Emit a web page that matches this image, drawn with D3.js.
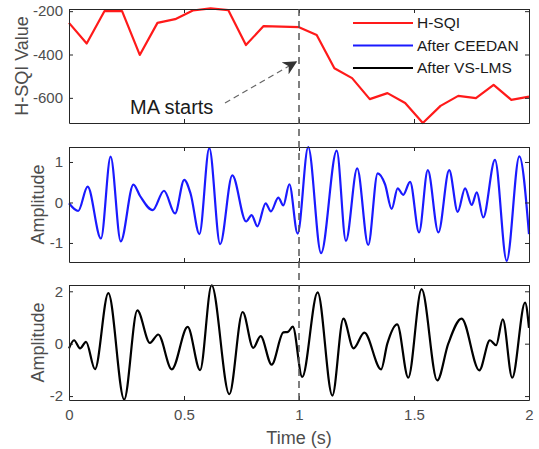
<!DOCTYPE html>
<html>
<head>
<meta charset="utf-8">
<script src="https://cdn.jsdelivr.net/npm/d3@7"></script>
<style>
  body { margin: 0; background: #fff; }
  svg text { font-family: "Liberation Sans", Arial, sans-serif; }
</style>
</head>
<body>
<svg id="chart" width="539" height="449"></svg>
<script>
// H-SQI, one value per window (27 windows over 2 s)
var hsqiTime = d3.range(27).map(function (i) { return i * 2 / 26; });
var hsqiValues = [-254, -349, -200, -200, -402, -254, -237, -197, -187, -195, -356, -269,
    -271, -274, -310, -463, -509, -606, -578, -624, -716, -637, -591, -601, -540, -609, -594];

// after CEEDAN: turning points
var ceedanTime = [0, 0.040, 0.081, 0.139, 0.181, 0.225, 0.280, 0.309, 0.364, 0.413, 0.461, 0.501,
    0.529, 0.567, 0.610, 0.657, 0.710, 0.770, 0.794, 0.819, 0.855, 0.878, 0.910, 0.932, 0.958,
    0.994, 1.040, 1.096, 1.164, 1.204, 1.253, 1.301, 1.342, 1.374, 1.403, 1.429, 1.453, 1.483,
    1.522, 1.560, 1.606, 1.653, 1.690, 1.722, 1.751, 1.773, 1.801, 1.852, 1.903, 1.958, 2.0];
var ceedanValues = [-0.02, -0.21, 0.39, -0.89, 1.13, -0.96, 0.44, 0.16, -0.19, 0.29, -0.27, 0.56,
    0.21, -0.78, 1.34, -1.03, 0.67, -0.47, -0.31, -0.59, -0.02, -0.22, 0.12, -0.07, 0.45,
    -0.77, 1.37, -1.25, 1.28, -0.95, 0.84, -1.05, 0.72, 0.45, -0.16, 0.35, 0.19, 0.51,
    -0.74, 0.80, -0.74, 0.80, -0.23, 0.35, -0.06, 0.25, -0.37, 1.05, -1.44, 1.14, -0.78];

// after VS-LMS
var lmsTime = [0, 0.022, 0.048, 0.074, 0.113, 0.171, 0.240, 0.297, 0.352, 0.388, 0.447, 0.516,
    0.570, 0.620, 0.697, 0.755, 0.801, 0.833, 0.881, 0.932, 0.952, 0.973, 1.014, 1.081, 1.145,
    1.193, 1.237, 1.284, 1.357, 1.384, 1.427, 1.475, 1.533, 1.601, 1.649, 1.707, 1.784, 1.830,
    1.857, 1.886, 1.927, 1.983, 2.0];
var lmsValues = [-0.18, 0.13, -0.18, 0.07, -0.97, 1.93, -2.13, 1.27, 0.03, 0.35, -0.98, 0.64,
    -1.01, 2.23, -1.93, 1.21, -0.16, 0.29, -0.8, 0.43, 0.45, 0.65, -1.27, 1.96, -1.98,
    0.96, -0.18, 0.42, -0.98, 0.0, 0.74, -1.3, 2.08, -1.4, 0.0, 0.96, -1.02, 0.13,
    -0.06, 0.93, -1.3, 1.57, 0.6];

var timeTicks = [0, 0.5, 1, 1.5, 2];
var hsqiTicks = [-600, -400, -200];
var ceedanTicks = [-1, 0, 1];
var lmsTicks = [-2, 0, 2];
var legendNames = ['H-SQI', 'After CEEDAN', 'After VS-LMS'];
var legendColors = ['#ff1a1a', '#1a1aff', '#000000'];
var maStart = 1;

var svg = d3.select('#chart');
var left = 69, right = 529;
var x = d3.scaleLinear().domain([0, 2]).range([left, right]);
var plain = function (d) { return String(d); };

var panels = [
    { top: 9, bottom: 123, domain: [-716, -190], ticks: hsqiTicks, label: 'H-SQI Value',
      labelX: 22, t: hsqiTime, v: hsqiValues, color: legendColors[0], curve: d3.curveLinear },
    { top: 147, bottom: 262, domain: [-1.47, 1.37], ticks: ceedanTicks, label: 'Amplitude',
      labelX: 38, t: ceedanTime, v: ceedanValues, color: legendColors[1], curve: d3.curveMonotoneX },
    { top: 285, bottom: 400, domain: [-2.15, 2.24], ticks: lmsTicks, label: 'Amplitude',
      labelX: 38, t: lmsTime, v: lmsValues, color: legendColors[2], curve: d3.curveMonotoneX }
];

var axisColor = '#262626', textColor = '#4d4d4d';

panels.forEach(function (p, idx) {
    var y = d3.scaleLinear().domain(p.domain).range([p.bottom, p.top]);
    var g = svg.append('g');

    var line = d3.line()
        .x(function (d) { return x(d[0]); })
        .y(function (d) { return y(d[1]); })
        .curve(p.curve);

    g.append('path')
        .datum(d3.zip(p.t, p.v))
        .attr('d', line)
        .attr('fill', 'none')
        .attr('stroke', p.color)
        .attr('stroke-width', 2.2)
        .attr('stroke-linejoin', 'round');

    // box with inward ticks on all four sides
    var h = p.bottom - p.top;
    g.append('g').attr('transform', 'translate(0,' + p.bottom + ')')
        .call(d3.axisBottom(x).tickValues(timeTicks).tickSizeInner(-4).tickSizeOuter(0)
            .tickFormat(idx === 2 ? plain : ''))
        .call(styleAxis).selectAll('text').attr('dy', '1.1em');
    g.append('g').attr('transform', 'translate(0,' + p.top + ')')
        .call(d3.axisTop(x).tickValues(timeTicks).tickSizeInner(-4).tickSizeOuter(0).tickFormat(''))
        .call(styleAxis);
    g.append('g').attr('transform', 'translate(' + left + ',0)')
        .call(d3.axisLeft(y).tickValues(p.ticks).tickSizeInner(-4).tickSizeOuter(0).tickFormat(plain))
        .call(styleAxis).selectAll('text').attr('x', -6);
    g.append('g').attr('transform', 'translate(' + right + ',0)')
        .call(d3.axisRight(y).tickValues(p.ticks).tickSizeInner(-4).tickSizeOuter(0).tickFormat(''))
        .call(styleAxis);

    g.append('text')
        .attr('transform', 'translate(' + p.labelX + ',' + (p.top + h / 2) + ') rotate(-90)')
        .attr('text-anchor', 'middle')
        .attr('dy', '0.35em')
        .attr('font-size', 18)
        .attr('fill', textColor)
        .text(p.label);
});

function styleAxis(sel) {
    sel.select('.domain').attr('stroke', axisColor).attr('stroke-width', 1);
    sel.selectAll('.tick line').attr('stroke', axisColor);
    sel.selectAll('text')
        .attr('font-size', 15)
        .attr('fill', textColor);
}

svg.append('text')
    .attr('x', x(1)).attr('y', 444)
    .attr('text-anchor', 'middle')
    .attr('font-size', 18)
    .attr('fill', textColor)
    .text('Time (s)');

// legend
var legend = svg.append('g');
legendNames.forEach(function (name, i) {
    var ly = 23 + i * 22.5;
    legend.append('line')
        .attr('x1', 353).attr('x2', 413).attr('y1', ly).attr('y2', ly)
        .attr('stroke', legendColors[i]).attr('stroke-width', 2.2);
    legend.append('text')
        .attr('x', 417).attr('y', ly).attr('dy', '0.35em')
        .attr('font-size', 15.5).attr('fill', '#1a1a1a')
        .text(name);
});

// MA onset marker
svg.append('line')
    .attr('x1', x(maStart)).attr('x2', x(maStart))
    .attr('y1', 9).attr('y2', 402)
    .attr('stroke', '#555').attr('stroke-width', 1.5)
    .attr('stroke-dasharray', '7,5');

svg.append('defs').append('marker')
    .attr('id', 'arrow')
    .attr('viewBox', '0 0 10 10')
    .attr('refX', 9).attr('refY', 5)
    .attr('markerWidth', 14).attr('markerHeight', 14)
    .attr('markerUnits', 'userSpaceOnUse')
    .attr('orient', 'auto')
    .append('path')
    .attr('d', 'M0,0 L10,5 L0,10 L3,5 Z')
    .attr('fill', '#333');

svg.append('line')
    .attr('x1', 225).attr('y1', 103)
    .attr('x2', 296).attr('y2', 62)
    .attr('stroke', '#666').attr('stroke-width', 1.2)
    .attr('stroke-dasharray', '6,4')
    .attr('marker-end', 'url(#arrow)');

svg.append('text')
    .attr('x', 130).attr('y', 107).attr('dy', '0.35em')
    .attr('font-size', 20).attr('fill', '#1a1a1a')
    .text('MA starts');
</script>
</body>
</html>
